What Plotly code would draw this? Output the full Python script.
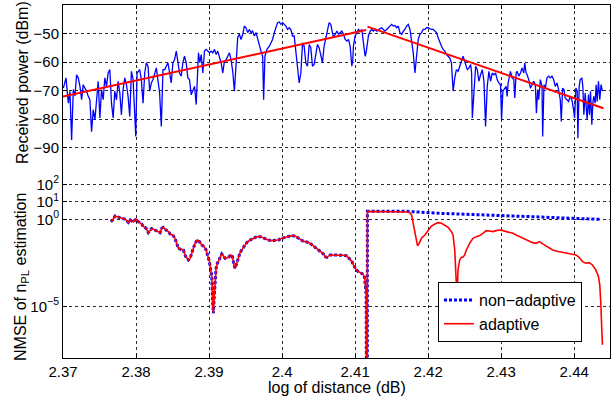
import numpy as np
import plotly.graph_objects as go

# ---------------- top panel: received power ----------------
dist_rx = [
    2.37005, 2.37041, 2.37073, 2.37095, 2.37118, 2.37141, 2.37164, 2.37186, 2.37209, 2.37232,
    2.37255, 2.37277, 2.37300, 2.37323, 2.37346, 2.37368, 2.37391, 2.37414, 2.37437, 2.37459,
    2.37482, 2.37505, 2.37528, 2.37550, 2.37573, 2.37596, 2.37618, 2.37641, 2.37664, 2.37687,
    2.37709, 2.37732, 2.37755, 2.37778, 2.37800, 2.37823, 2.37846, 2.37869, 2.37891, 2.37914,
    2.37937, 2.37960, 2.37982, 2.37996, 2.38014, 2.38050, 2.38073, 2.38096, 2.38119, 2.38141,
    2.38164, 2.38187, 2.38210, 2.38232, 2.38278, 2.38323, 2.38346, 2.38369, 2.38392, 2.38414,
    2.38437, 2.38460, 2.38482, 2.38505, 2.38528, 2.38551, 2.38573, 2.38596, 2.38619, 2.38641,
    2.38664, 2.38687, 2.38710, 2.38732, 2.38755, 2.38778, 2.38801, 2.38824,
    2.38855, 2.38874, 2.38892, 2.38915, 2.38937, 2.38960, 2.38983, 2.39006, 2.39028, 2.39051,
    2.39074, 2.39097, 2.39119, 2.39142, 2.39165, 2.39188, 2.39210, 2.39233, 2.39256, 2.39279,
    2.39301, 2.39324, 2.39347, 2.39370, 2.39392, 2.39415, 2.39438, 2.39461, 2.39483, 2.39506,
    2.39529, 2.39552, 2.39574, 2.39597, 2.39620, 2.39643, 2.39665, 2.39688, 2.39711, 2.39734,
    2.39747, 2.39765, 2.39793, 2.39825, 2.39847, 2.39870, 2.39893, 2.39916, 2.39938, 2.39961,
    2.39984, 2.40007, 2.40029, 2.40052, 2.40075, 2.40098, 2.40120, 2.40143, 2.40166, 2.40189,
    2.40211, 2.40234, 2.40257, 2.40280, 2.40302, 2.40325, 2.40348, 2.40371, 2.40393, 2.40416,
    2.40439, 2.40462, 2.40484, 2.40507, 2.40530, 2.40553, 2.40575, 2.40598, 2.40621, 2.40644,
    2.40666,
    2.40704, 2.40727, 2.40750, 2.40773, 2.40795, 2.40818, 2.40841, 2.40864, 2.40886, 2.40909,
    2.40932, 2.40955, 2.40968, 2.40977, 2.41000, 2.41023, 2.41046, 2.41068, 2.41091, 2.41114,
    2.41137, 2.41150, 2.41168, 2.41182, 2.41205, 2.41228, 2.41250, 2.41273, 2.41296, 2.41318,
    2.41341, 2.41364, 2.41387, 2.41409, 2.41432, 2.41455, 2.41478, 2.41500, 2.41523, 2.41546,
    2.41569, 2.41591, 2.41614, 2.41637, 2.41660, 2.41682, 2.41705, 2.41728, 2.41751, 2.41773,
    2.41796, 2.41819, 2.41841, 2.41864, 2.41887, 2.41910, 2.41932, 2.41955, 2.41978, 2.42001,
    2.42023, 2.42046, 2.42069, 2.42092, 2.42114, 2.42137, 2.42160, 2.42183, 2.42205, 2.42228,
    2.42251, 2.42274, 2.42296, 2.42319, 2.42342, 2.42364, 2.42387, 2.42410, 2.42433, 2.42455,
    2.42478,
    2.42536, 2.42559, 2.42582, 2.42595, 2.42605, 2.42627, 2.42650, 2.42673, 2.42695, 2.42718,
    2.42741, 2.42764, 2.42786, 2.42809, 2.42832, 2.42855, 2.42877, 2.42900, 2.42923, 2.42945,
    2.42968, 2.42991, 2.43005, 2.43023, 2.43050, 2.43068, 2.43082, 2.43095, 2.43114, 2.43127,
    2.43150, 2.43173, 2.43186, 2.43205, 2.43218, 2.43241, 2.43264, 2.43286, 2.43309, 2.43323,
    2.43341, 2.43355, 2.43377, 2.43400, 2.43423, 2.43445, 2.43468, 2.43482, 2.43500, 2.43514,
    2.43536, 2.43559, 2.43568, 2.43586, 2.43605, 2.43627, 2.43650, 2.43673, 2.43695, 2.43718,
    2.43741, 2.43764, 2.43786, 2.43809, 2.43823, 2.43841, 2.43859, 2.43877, 2.43900, 2.43923,
    2.43945, 2.43968, 2.43991, 2.44005, 2.44023, 2.44041, 2.44050, 2.44068, 2.44082, 2.44105,
    2.44118, 2.44132, 2.44150, 2.44164, 2.44177, 2.44195, 2.44209, 2.44223, 2.44241, 2.44255,
    2.44268, 2.44286, 2.44300, 2.44314, 2.44332, 2.44350, 2.44368, 2.44386,
]
power_rx = [
    -69.1, -65.5, -74.4, -70.2, -87.3, -69.6, -71.9, -64.4, -65.5, -68.5,
    -73.2, -67.9, -69.1, -70.2, -72.0, -73.2, -84.4, -76.7, -80.2, -72.6,
    -66.7, -79.6, -69.6, -73.2, -65.5, -68.5, -63.8, -62.6, -74.4, -79.6,
    -70.2, -73.2, -66.7, -70.8, -78.5, -69.6, -65.5, -67.9, -72.0, -79.1,
    -63.2, -66.1, -81.4, -86.1, -63.8, -62.6, -66.1, -74.4, -63.8, -60.2,
    -61.4, -70.2, -67.3, -66.1, -62.0, -70.8, -82.6, -62.6, -62.6, -61.4,
    -60.2, -63.8, -67.3, -60.2, -59.1, -56.1, -60.2, -63.8, -64.9, -60.2,
    -57.9, -60.2, -65.5, -66.1, -71.4, -70.2, -68.5, -74.9,
    -56.7, -60.2, -57.3, -63.8, -56.1, -55.5, -56.1, -56.7, -56.1, -56.7,
    -55.5, -57.3, -56.1, -57.9, -60.2, -63.8, -59.6, -59.1, -57.9, -56.7,
    -59.1, -63.2, -70.2, -57.9, -51.4, -50.2, -52.0, -50.2, -47.3, -47.9,
    -49.6, -48.5, -49.6, -49.1, -50.8, -49.6, -52.0, -54.4, -56.1, -57.9,
    -73.2, -57.9, -55.5, -54.4, -53.2, -52.0, -49.6, -47.9, -46.1, -45.9,
    -46.7, -46.1, -46.7, -47.3, -48.5, -47.9, -48.5, -50.8, -50.8, -56.7,
    -60.2, -67.3, -63.8, -53.2, -54.4, -60.2, -61.4, -53.8, -54.9, -61.4,
    -60.8, -56.7, -53.8, -54.9, -57.9, -60.2, -54.4, -52.0, -48.5, -46.1,
    -46.7,
    -51.4, -50.2, -49.1, -50.2, -49.6, -49.1, -50.2, -52.0, -52.6, -52.0,
    -54.4, -61.4, -59.1, -54.4, -50.8, -49.6, -48.5, -49.1, -48.5, -53.2,
    -57.9, -56.7, -53.2, -50.8, -49.1, -48.5, -49.1, -48.5, -49.1, -48.5,
    -48.2, -47.9, -48.5, -49.1, -48.5, -47.9, -47.3, -46.7, -47.3, -47.1,
    -47.9, -47.3, -49.6, -50.2, -49.1, -48.5, -47.3, -46.7, -48.5, -52.0,
    -56.7, -63.8, -57.9, -52.0, -50.2, -49.6, -48.5, -48.5, -47.9, -47.9,
    -48.2, -48.5, -48.5, -49.1, -49.6, -51.4, -53.2, -54.4, -55.5, -56.1,
    -57.3, -57.9, -58.5, -60.2, -70.2, -65.5, -62.6, -63.2, -61.4, -59.1,
    -57.9,
    -62.6, -62.0, -60.8, -63.8, -79.6, -68.5, -61.4, -62.6, -66.7, -64.4,
    -62.6, -66.7, -82.6, -68.5, -63.2, -66.7, -63.8, -64.4, -63.8, -66.1,
    -67.3, -67.9, -80.2, -70.2, -69.1, -68.5, -72.0, -67.3, -64.9, -63.2,
    -65.5, -66.1, -72.6, -63.8, -63.2, -64.9, -63.8, -62.0, -63.8, -60.2,
    -63.8, -64.4, -66.1, -69.1, -67.9, -66.7, -67.9, -77.9, -69.6, -73.2,
    -66.1, -68.5, -86.1, -67.9, -69.1, -65.5, -64.9, -65.5, -64.9, -66.1,
    -68.5, -67.3, -69.6, -73.2, -80.8, -69.1, -69.6, -72.6, -73.2, -73.8,
    -72.0, -73.2, -76.7, -79.6, -69.1, -70.2, -86.7, -68.5, -66.1, -65.5,
    -68.5, -78.5, -70.8, -76.7, -80.2, -71.4, -78.5, -70.2, -82.0, -74.4,
    -72.0, -74.4, -67.9, -73.8, -66.7, -73.2, -67.9, -70.2,
]

# piecewise linear path-loss fit (two segments)
fit_dist = [2.3700, 2.4115, None, 2.4117, 2.4440]
fit_power = [-72.1, -48.7, None, -47.5, -76.2]

# ---------------- bottom panel: NMSE (log10 of value) ----------------
d_common = [
    2.37653, 2.37680, 2.37712, 2.37744, 2.37781, 2.37817, 2.37849, 2.37872, 2.37895, 2.37918,
    2.37941, 2.37963, 2.37986, 2.38009, 2.38032, 2.38055, 2.38078, 2.38100, 2.38123, 2.38146,
    2.38169, 2.38192, 2.38215, 2.38237, 2.38283, 2.38329, 2.38352, 2.38374, 2.38411, 2.38443,
    2.38466, 2.38502, 2.38534, 2.38557, 2.38580, 2.38612, 2.38648, 2.38676, 2.38717, 2.38740,
    2.38763, 2.38785, 2.38808, 2.38840, 2.38868, 2.38900, 2.38932, 2.38959, 2.38977, 2.39005,
    2.39023, 2.39037, 2.39050, 2.39059, 2.39068, 2.39082, 2.39096, 2.39114, 2.39142, 2.39174,
    2.39196, 2.39219, 2.39242, 2.39265, 2.39297, 2.39320, 2.39342, 2.39356, 2.39379, 2.39402,
    2.39425, 2.39447, 2.39470, 2.39493, 2.39516, 2.39539, 2.39562, 2.39607, 2.39653, 2.39699,
    2.39721, 2.39767, 2.39813, 2.39858, 2.39904, 2.39950, 2.39995, 2.40064, 2.40132, 2.40178,
    2.40210, 2.40247, 2.40292, 2.40338, 2.40384, 2.40429, 2.40475, 2.40521, 2.40566, 2.40589,
    2.40612, 2.40658, 2.40703, 2.40772, 2.40840, 2.40886, 2.40922, 2.40954, 2.40977, 2.41014,
    2.41046, 2.41080, 2.41110, 2.41130, 2.41145, 2.41152, 2.41156, 2.41166, 2.41168,
]
lognmse_common = [
    -0.134, -0.038, 0.191, 0.153, 0.095, 0.057, 0.000, -0.076, -0.172, -0.038,
    -0.076, -0.153, -0.038, 0.000, -0.134, -0.229, -0.267, -0.420, -0.458, -0.573,
    -0.763, -0.649, -0.534, -0.573, -0.649, -0.763, -0.515, -0.458, -0.611, -0.706,
    -0.840, -0.897, -1.088, -1.374, -1.679, -1.718, -1.756, -2.099, -2.328, -2.233,
    -1.908, -1.603, -1.374, -1.183, -1.279, -1.469, -1.565, -1.756, -1.985, -2.424,
    -2.901, -3.282, -4.809, -5.382, -4.618, -3.282, -2.805, -2.519, -2.233, -1.985,
    -2.099, -2.233, -2.214, -2.176, -2.042, -2.137, -2.615, -2.805, -2.519, -2.176,
    -1.908, -1.756, -1.603, -1.469, -1.336, -1.240, -1.183, -1.088, -0.992, -0.992,
    -1.031, -1.126, -1.183, -1.221, -1.221, -1.183, -1.088, -0.992, -0.935, -0.954,
    -1.031, -1.145, -1.260, -1.298, -1.374, -1.527, -1.679, -1.832, -1.985, -2.137,
    -2.176, -2.042, -2.042, -2.061, -2.061, -2.099, -2.233, -2.400, -2.615, -2.901,
    -3.000, -3.070, -3.150, -3.350, -3.800, -4.300, -12.0, -12.0, 0.458,
]
d_nonadapt = [2.41705, 2.42159, 2.42614, 2.43000, 2.43523, 2.43977, 2.44364]
lognmse_nonadapt = [0.458, 0.344, 0.286, 0.210, 0.134, 0.057, 0.000]

d_adapt = [
    2.41682, 2.41705, 2.41750, 2.41773, 2.41795, 2.41818, 2.41841, 2.41855, 2.41877, 2.41909,
    2.41955, 2.42000, 2.42045, 2.42091, 2.42136, 2.42182, 2.42227, 2.42273, 2.42318, 2.42341,
    2.42364, 2.42377, 2.42386, 2.42395, 2.42409, 2.42432, 2.42455, 2.42477, 2.42500, 2.42523,
    2.42568, 2.42614, 2.42659, 2.42705, 2.42750, 2.42795, 2.42841, 2.42886, 2.42932, 2.42977,
    2.43023, 2.43068, 2.43114, 2.43159, 2.43205, 2.43250, 2.43295, 2.43341, 2.43386, 2.43432,
    2.43477, 2.43523, 2.43568, 2.43614, 2.43659, 2.43705, 2.43750, 2.43795, 2.43841, 2.43886,
    2.43932, 2.43977, 2.44023, 2.44068, 2.44114, 2.44159, 2.44205, 2.44250, 2.44295, 2.44332,
    2.44350, 2.44364, 2.44377, 2.44386,
]
lognmse_adapt = [
    0.458, 0.420, 0.382, 0.248, -0.229, -0.802, -1.374, -1.527, -1.374, -1.088,
    -0.897, -0.611, -0.382, -0.267, -0.191, -0.229, -0.324, -0.458, -0.706, -0.897,
    -1.756, -2.710, -3.664, -4.500, -2.901, -2.328, -2.176, -2.176, -2.042, -1.756,
    -1.374, -1.088, -0.992, -0.935, -0.802, -0.649, -0.668, -0.706, -0.649, -0.611,
    -0.649, -0.706, -0.725, -0.802, -0.897, -0.992, -1.088, -1.183, -1.279, -1.336,
    -1.374, -1.279, -1.412, -1.527, -1.660, -1.756, -1.813, -1.851, -1.908, -1.947,
    -1.985, -1.985, -2.042, -2.176, -2.424, -2.519, -2.481, -2.615, -2.901, -3.282,
    -3.760, -4.809, -6.145, -7.195,
]

x_ticks = [2.37, 2.38, 2.39, 2.40, 2.41, 2.42, 2.43, 2.44]
x_ticktext = ["2.37", "2.38", "2.39", "2.4", "2.41", "2.42", "2.43", "2.44"]
power_ticks = [-90, -80, -70, -60, -50]
nmse_ticks = [1e-5, 1e0, 1e1, 1e2]
nmse_ticktext = ["10<sup>−5</sup>", "10<sup>0</sup>", "10<sup>1</sup>", "10<sup>2</sup>"]

FONT = "Liberation Sans, Arial, Helvetica, sans-serif"
GRID = "#2a2a2a"

nonadapt_x = d_common + d_nonadapt
nonadapt_y = list(10 ** np.array(lognmse_common + lognmse_nonadapt))
adapt_x = d_common + d_adapt
adapt_y = list(10 ** np.array(lognmse_common + lognmse_adapt))

fig = go.Figure()
fig.add_trace(go.Scatter(x=dist_rx, y=power_rx, mode="lines", xaxis="x", yaxis="y",
                         line=dict(color="#0000ff", width=1.3), showlegend=False))
fig.add_trace(go.Scatter(x=fit_dist, y=fit_power, mode="lines", xaxis="x", yaxis="y",
                         line=dict(color="#ff0000", width=2), showlegend=False))
fig.add_trace(go.Scatter(x=nonadapt_x, y=nonadapt_y, mode="lines", xaxis="x2", yaxis="y2",
                         name="non−adaptive",
                         line=dict(color="#0000ff", width=3, dash="3px,2px")))
fig.add_trace(go.Scatter(x=adapt_x, y=adapt_y, mode="lines", xaxis="x2", yaxis="y2",
                         name="adaptive", line=dict(color="#ff0000", width=1.6)))

split = 0.5411
xr = [2.37, 2.4449]
common_axis = dict(showline=True, linecolor="black", linewidth=1, ticks="inside", ticklen=4,
                   tickcolor="black", showgrid=True, gridcolor=GRID, gridwidth=1,
                   griddash="3px,3px", zeroline=False,
                   tickfont=dict(family=FONT, size=15, color="black"))

PLOT_L, PLOT_W, PLOT_B, PLOT_H = 63, 547, 358, 353


def px_x(p):
    return (p - PLOT_L) / PLOT_W


def px_y(p):
    return (PLOT_B - p) / PLOT_H


fig.update_layout(
    width=613, height=398,
    margin=dict(l=63, r=3, t=5, b=40),
    paper_bgcolor="white", plot_bgcolor="white",
    font=dict(family=FONT, size=15, color="black"),
    xaxis=dict(domain=[0, 1], anchor="y", side="top", range=xr, tickvals=x_ticks,
               showticklabels=False, **common_axis),
    yaxis=dict(domain=[split, 1], anchor="x", range=[-96.83, -39.9], tickvals=power_ticks,
               mirror=True, **common_axis),
    xaxis2=dict(domain=[0, 1], anchor="y2", range=xr, tickvals=x_ticks, ticktext=x_ticktext,
                **common_axis),
    yaxis2=dict(domain=[0, split], anchor="x2", type="log", range=[-7.95, 3.0],
                tickvals=nmse_ticks, ticktext=nmse_ticktext, mirror=True, **common_axis),
    legend=dict(x=px_x(438), y=px_y(282), xanchor="left", yanchor="top", bgcolor="white",
                bordercolor="black", borderwidth=1, font=dict(family=FONT, size=16),
                itemwidth=30, tracegroupgap=0),
    annotations=[
        dict(text="Received power (dBm)", x=px_x(22), y=px_y(83), xref="paper", yref="paper",
             xanchor="center", yanchor="middle",
             showarrow=False, textangle=-90, font=dict(family=FONT, size=16)),
        dict(text="NMSE of n<sub>PL</sub> estimation", x=px_x(21), y=px_y(277), xref="paper",
             yref="paper", xanchor="center", yanchor="middle",
             showarrow=False, textangle=-90, font=dict(family=FONT, size=16)),
        dict(text="log of distance (dB)", x=0.5, y=px_y(387), xref="paper", yref="paper",
             xanchor="center", yanchor="middle",
             showarrow=False, font=dict(family=FONT, size=16)),
    ],
)

fig.write_html("out.html")
